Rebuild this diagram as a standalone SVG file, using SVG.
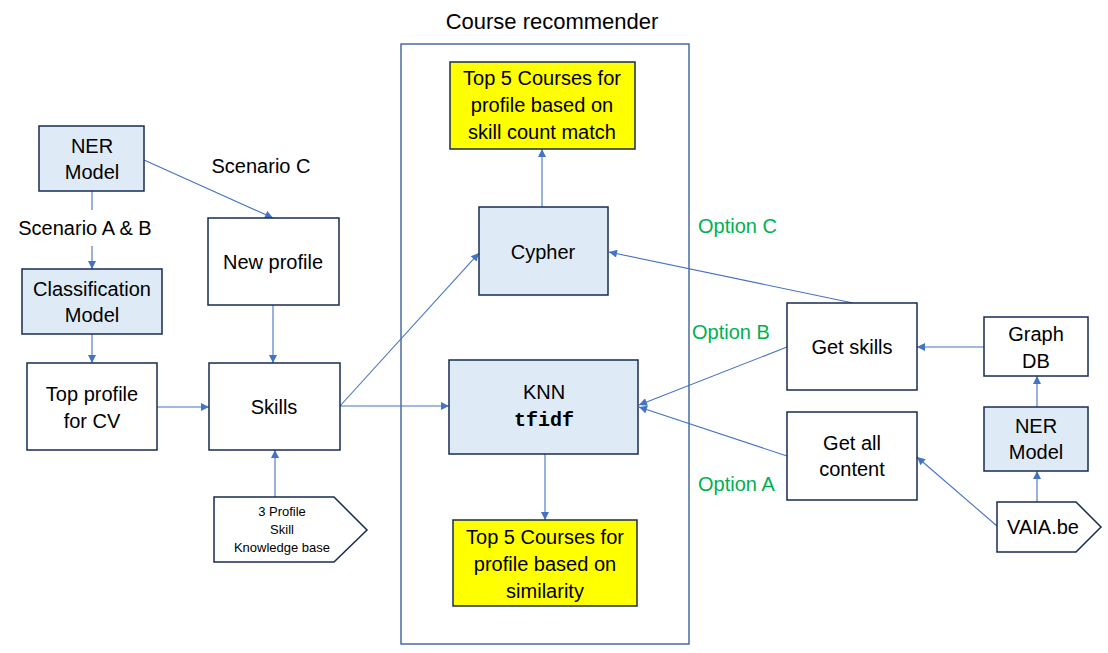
<svg xmlns="http://www.w3.org/2000/svg" width="1108" height="653" viewBox="0 0 1108 653">
<style>
text{font-family:"Liberation Sans",Arial,sans-serif;font-size:20px;fill:#000;text-anchor:middle}
.box{stroke:#172C51;stroke-width:1.5;fill:#fff}
.blue{fill:#DEEBF7}
.yel{fill:#FFFF00}
.opt{fill:#00B050;text-anchor:start}
.mono{font-family:"Liberation Mono","Courier New",monospace;font-weight:bold}
.small{font-size:13px}
.c{stroke:#4472C4;stroke-width:1.1;fill:none}
.a{marker-end:url(#ah)}
</style>
<defs>
<marker id="ah" viewBox="0 0 10 10" refX="10" refY="5" markerWidth="9" markerHeight="8" markerUnits="userSpaceOnUse" orient="auto">
<path d="M0,0 L10,5 L0,10 z" fill="#4472C4"/>
</marker>
</defs>
<rect x="401" y="44" width="288" height="600" fill="none" stroke="#2F5597" stroke-width="1.3"/>
<text x="552" y="29" style="font-size:22px">Course recommender</text>
<g id="connectors">
<line class="c" x1="92" y1="191" x2="92" y2="210"/>
<line class="c a" x1="92" y1="246" x2="92" y2="269"/>
<line class="c a" x1="92" y1="334" x2="92" y2="363"/>
<line class="c a" x1="144" y1="160" x2="273" y2="218"/>
<line class="c a" x1="273" y1="305" x2="273" y2="363"/>
<line class="c a" x1="157" y1="407" x2="209" y2="407"/>
<line class="c a" x1="275" y1="497" x2="275" y2="450"/>
<line class="c a" x1="340" y1="406" x2="479" y2="253"/>
<line class="c a" x1="340" y1="406" x2="449" y2="406"/>
<line class="c a" x1="542" y1="207" x2="542" y2="149"/>
<line class="c a" x1="545" y1="454" x2="545" y2="520"/>
<line class="c a" x1="853" y1="303" x2="609" y2="252"/>
<line class="c a" x1="787" y1="347" x2="639" y2="405"/>
<line class="c a" x1="787" y1="456" x2="639" y2="407"/>
<line class="c a" x1="984" y1="347" x2="917" y2="347"/>
<line class="c a" x1="1037" y1="407" x2="1037" y2="376"/>
<line class="c a" x1="1037" y1="502" x2="1037" y2="471"/>
<line class="c a" x1="997" y1="526" x2="917" y2="457"/>
</g>
<g id="ner-left"><rect class="box blue" x="39" y="126" width="105" height="65"/><text x="92" y="153">NER</text><text x="92" y="179">Model</text></g>
<g id="scenario-ab"><text x="85" y="235">Scenario A &amp; B</text></g>
<g id="scenario-c"><text x="261" y="173">Scenario C</text></g>
<g id="classification"><rect class="box blue" x="22" y="269" width="140" height="65"/><text x="92" y="296">Classification</text><text x="92" y="322">Model</text></g>
<g id="top-profile"><rect class="box" x="27" y="363" width="130" height="87"/><text x="92" y="401">Top profile</text><text x="92" y="428">for CV</text></g>
<g id="new-profile"><rect class="box" x="208" y="218" width="131" height="87"/><text x="273" y="269">New profile</text></g>
<g id="skills"><rect class="box" x="209" y="363" width="131" height="87"/><text x="274" y="414">Skills</text></g>
<g id="kb"><path class="box" d="M214,497 L334,497 L367,530 L334,562 L214,562 z"/><text class="small" x="282" y="516">3 Profile</text><text class="small" x="282" y="534">Skill</text><text class="small" x="282" y="552">Knowledge base</text></g>
<g id="top5-count"><rect class="box yel" x="450" y="62" width="185" height="87"/><text x="542" y="85">Top 5 Courses for</text><text x="542" y="112">profile based on</text><text x="542" y="139">skill count match</text></g>
<g id="cypher"><rect class="box blue" x="479" y="207" width="129" height="88"/><text x="543" y="259">Cypher</text></g>
<g id="knn"><rect class="box blue" x="449" y="360" width="189" height="94"/><text x="544" y="399">KNN</text><text class="mono" x="544" y="426">tfidf</text></g>
<g id="top5-sim"><rect class="box yel" x="453" y="520" width="184" height="86"/><text x="545" y="544">Top 5 Courses for</text><text x="545" y="571">profile based on</text><text x="545" y="598">similarity</text></g>
<g id="opt-c"><text class="opt" x="698" y="233">Option C</text></g>
<g id="opt-b"><text class="opt" x="692" y="339">Option B</text></g>
<g id="opt-a"><text class="opt" x="698" y="491">Option A</text></g>
<g id="get-skills"><rect class="box" x="787" y="303" width="130" height="87"/><text x="852" y="354">Get skills</text></g>
<g id="get-all"><rect class="box" x="787" y="412" width="130" height="88"/><text x="852" y="450">Get all</text><text x="852" y="476">content</text></g>
<g id="graphdb"><rect class="box" x="984" y="317" width="104" height="59"/><text x="1036" y="341">Graph</text><text x="1036" y="368">DB</text></g>
<g id="ner-right"><rect class="box blue" x="984" y="407" width="104" height="64"/><text x="1036" y="433">NER</text><text x="1036" y="459">Model</text></g>
<g id="vaia"><path class="box" d="M997,502 L1076,502 L1101,527 L1076,552 L997,552 z"/><text x="1043" y="534">VAIA.be</text></g>
</svg>
